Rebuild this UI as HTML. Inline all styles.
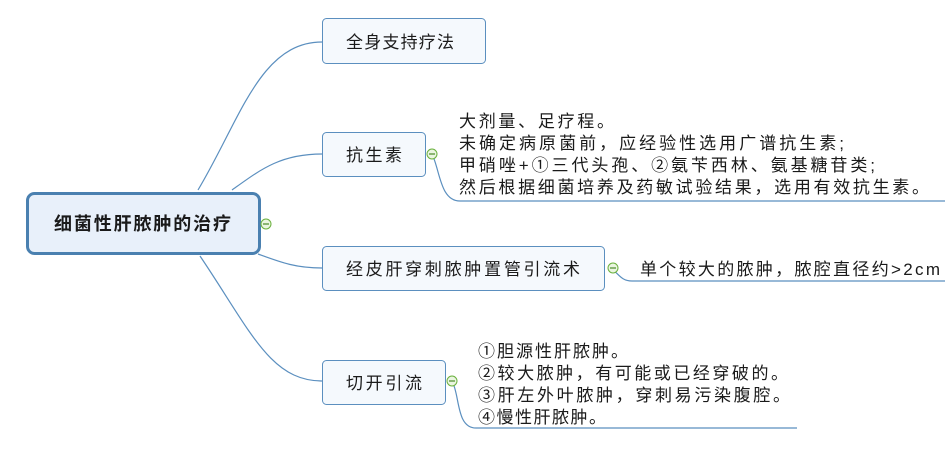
<!DOCTYPE html>
<html><head><meta charset="utf-8"><style>
html,body{margin:0;padding:0;background:#fff;}
svg text{font-family:"Liberation Sans","Noto Sans CJK SC","WenQuanYi Zen Hei",sans-serif;fill:#1a1a1a;}
</style></head><body>
<svg width="950" height="447" viewBox="0 0 950 447" xmlns="http://www.w3.org/2000/svg">
<g fill="none" stroke="#5b8fbf" stroke-width="1.2">
<path d="M198 190 C240 120 260 42 322 42"/>
<path d="M232 190 C260 170 280 154 322 154"/>
<path d="M258 254 C280 262 295 268 322 268"/>
<path d="M200 256 C250 330 270 381 322 381"/>
<path d="M432 154 C440 170 440 201 460 201 L945 201"/>
<path d="M610 268 C618 272 620 281 632 281 L945 281"/>
<path d="M452 381 C460 395 456 428 476 428 L797 428"/>
</g>
<rect x="27.5" y="193.5" width="232" height="60" rx="7" fill="#e8f0fa" stroke="#4a80b0" stroke-width="3"/>
<text x="54" y="230" font-size="18" textLength="177" lengthAdjust="spacing" font-weight="bold">细菌性肝脓肿的治疗</text>
<g fill="#f5f9fd" stroke="#5b8fbf" stroke-width="1">
<rect x="322.5" y="18.5" width="163" height="45" rx="4"/>
<rect x="322.5" y="132.5" width="103" height="44" rx="4"/>
<rect x="322.5" y="246.5" width="282" height="44" rx="4"/>
<rect x="322.5" y="360.5" width="123" height="44" rx="4"/>
</g>
<g font-size="17">
<text x="346" y="48" textLength="108" lengthAdjust="spacing">全身支持疗法</text>
<text x="346" y="161" textLength="56" lengthAdjust="spacing">抗生素</text>
<text x="346" y="275" textLength="234" lengthAdjust="spacing">经皮肝穿刺脓肿置管引流术</text>
<text x="346" y="389" textLength="76" lengthAdjust="spacing">切开引流</text>
</g>
<g font-size="17">
<text x="459" y="127" textLength="155" lengthAdjust="spacing">大剂量、足疗程。</text>
<text x="459" y="149" textLength="385" lengthAdjust="spacing">未确定病原菌前，应经验性选用广谱抗生素;</text>
<text x="459" y="171" textLength="416" lengthAdjust="spacing">甲硝唑+①三代头孢、②氨苄西林、氨基糖苷类;</text>
<text x="459" y="193" textLength="470" lengthAdjust="spacing">然后根据细菌培养及药敏试验结果，选用有效抗生素。</text>
<text x="640" y="275" textLength="300" lengthAdjust="spacing">单个较大的脓肿，脓腔直径约&gt;2cm</text>
<text x="478" y="357" textLength="150" lengthAdjust="spacing">①胆源性肝脓肿。</text>
<text x="478" y="379" textLength="310" lengthAdjust="spacing">②较大脓肿，有可能或已经穿破的。</text>
<text x="478" y="401" textLength="312" lengthAdjust="spacing">③肝左外叶脓肿，穿刺易污染腹腔。</text>
<text x="478" y="423" textLength="128" lengthAdjust="spacing">④慢性肝脓肿。</text>
</g>
<g fill="#eaf5e0" stroke="#6ab03c" stroke-width="1">
<circle cx="266" cy="224" r="5"/>
<circle cx="432" cy="154" r="5"/>
<circle cx="613" cy="268" r="5"/>
<circle cx="452" cy="381" r="5"/>
</g>
<g stroke="#4a8a2a" stroke-width="1.2">
<line x1="263" y1="224" x2="269" y2="224"/>
<line x1="429" y1="154" x2="435" y2="154"/>
<line x1="610" y1="268" x2="616" y2="268"/>
<line x1="449" y1="381" x2="455" y2="381"/>
</g>
</svg>
</body></html>
